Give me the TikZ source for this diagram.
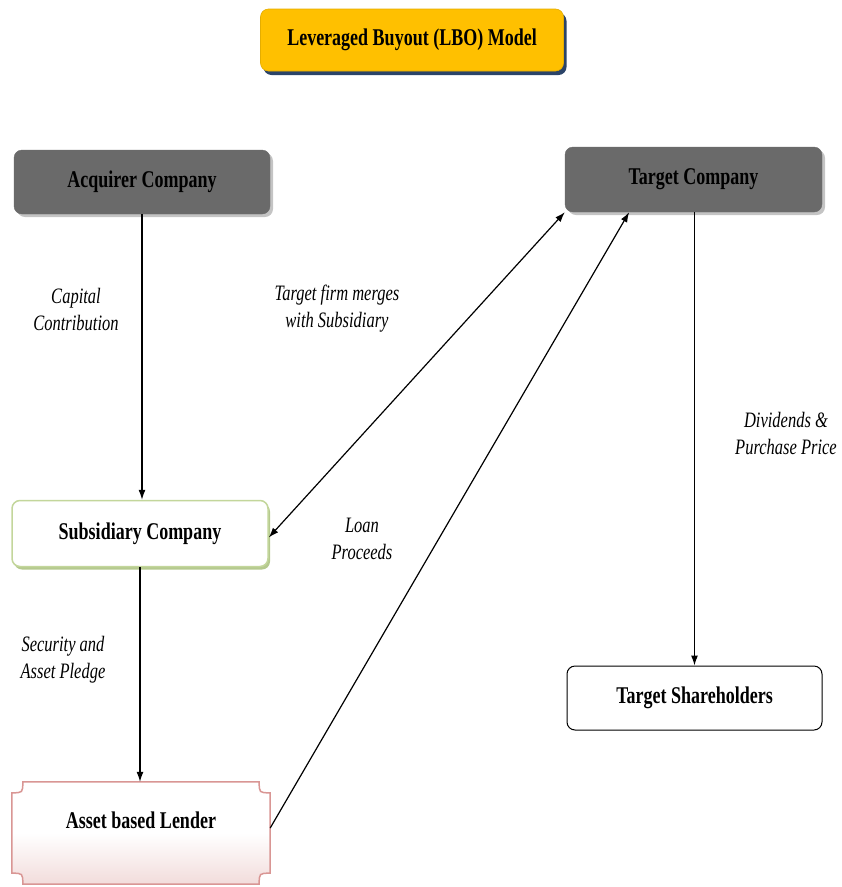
\documentclass[tikz,border=0pt]{standalone}
\usepackage{fontspec}
\setmainfont{Liberation Serif}[FakeStretch=0.75]
\usetikzlibrary{arrows.meta,calc,shadows}
\definecolor{titlefill}{HTML}{FFC000}
\definecolor{titleshadow}{HTML}{2B4468}
\definecolor{darkbox}{HTML}{6A6A6A}
\definecolor{boxshadow}{HTML}{C4C4C4}
\definecolor{subline}{HTML}{C3D69B}
\definecolor{subshadow}{HTML}{B5C98E}
\definecolor{ablline}{HTML}{D99694}
\definecolor{ablpink}{HTML}{F2DCDB}
\begin{document}
\begin{tikzpicture}[x=1pt,y=-1pt,
  boldtxt/.style={font=\fontsize{24}{28}\selectfont\bfseries},
  labeltxt/.style={font=\fontsize{22}{27}\selectfont\itshape, align=center, inner sep=0pt},
  titlebox/.style={boldtxt, rounded corners=8pt, fill=titlefill, draw=titlefill!90!black, line width=0.6pt,
     minimum width=303pt, minimum height=62pt,
     drop shadow={shadow xshift=3pt, shadow yshift=-4pt, fill=titleshadow, opacity=1}},
  graybox/.style={boldtxt, rounded corners=8pt, fill=darkbox, draw=darkbox, minimum width=256pt, minimum height=64pt,
     drop shadow={shadow xshift=3pt, shadow yshift=-3pt, fill=boxshadow, opacity=1}},
  subbox/.style={boldtxt, rounded corners=8pt, fill=white, draw=subline, line width=1.5pt, minimum width=256pt, minimum height=66pt,
     drop shadow={shadow xshift=2pt, shadow yshift=-3pt, fill=subshadow, opacity=1}},
  shbox/.style={boldtxt, rounded corners=8pt, fill=white, draw=black, line width=1pt, minimum width=255pt, minimum height=64pt},
  conn/.style={line width=1.2pt, -{Latex[length=10pt,width=7pt]}},
  dconn/.style={line width=1.2pt, {Latex[length=10pt,width=7pt]}-{Latex[length=10pt,width=7pt]}}
]
\useasboundingbox (0,0) rectangle (842,887);

% title
\node[titlebox] (title) at (412,40) {Leveraged Buyout (LBO) Model};

% boxes
\node[graybox] (acq) at (142,182) {Acquirer Company};
\node[graybox, minimum width=257pt, minimum height=65pt] (tgt) at (693.5,179.5) {Target Company};
\node[subbox] (sub) at (140,533.5) {Subsidiary Company};
\node[shbox] (sh) at (694.5,698) {Target Shareholders};

% asset based lender (scooped-corner box)
\node[minimum width=258pt, minimum height=102pt, inner sep=0pt] (abl) at (141,833) {};
\def\rr{11}
\shade[top color=white, bottom color=ablpink, middle color=white]
  ($(abl.north west)+(\rr,0)$) -- ($(abl.north east)+(-\rr,0)$)
  .. controls ($(abl.north east)+(-\rr,\rr)$) .. ($(abl.north east)+(0,\rr)$)
  -- ($(abl.south east)+(0,-\rr)$)
  .. controls ($(abl.south east)+(-\rr,-\rr)$) .. ($(abl.south east)+(-\rr,0)$)
  -- ($(abl.south west)+(\rr,0)$)
  .. controls ($(abl.south west)+(\rr,-\rr)$) .. ($(abl.south west)+(0,-\rr)$)
  -- ($(abl.north west)+(0,\rr)$)
  .. controls ($(abl.north west)+(\rr,\rr)$) .. cycle;
\draw[ablline, line width=1.5pt]
  ($(abl.north west)+(\rr,0)$) -- ($(abl.north east)+(-\rr,0)$)
  .. controls ($(abl.north east)+(-\rr,\rr)$) .. ($(abl.north east)+(0,\rr)$)
  -- ($(abl.south east)+(0,-\rr)$)
  .. controls ($(abl.south east)+(-\rr,-\rr)$) .. ($(abl.south east)+(-\rr,0)$)
  -- ($(abl.south west)+(\rr,0)$)
  .. controls ($(abl.south west)+(\rr,-\rr)$) .. ($(abl.south west)+(0,-\rr)$)
  -- ($(abl.north west)+(0,\rr)$)
  .. controls ($(abl.north west)+(\rr,\rr)$) .. cycle;
\node[boldtxt] (abltxt) at (141,820) {Asset based Lender};

% connectors
\draw[conn] (acq.south) -- (acq.south |- sub.north);
\draw[conn] (sub.south) -- (sub.south |- abl.north);
\draw[dconn] ($(sub.east)+(0,4)$) -- (tgt.south west);
\coordinate (tgtin) at ($(tgt.south west)!0.25!(tgt.south east)$);
\draw[conn] ($(abl.east)+(0,-5)$) -- (tgtin);
\coordinate (tgtout) at ($(tgt.south)+(1,0)$);
\draw[conn] (tgtout) -- (tgtout |- sh.north);

% labels
\node[labeltxt] (l1) at (76,309) {Capital\\Contribution};
\node[labeltxt] (l2) at (337,309) {Target firm merges\\with Subsidiary};
\node[labeltxt] (l3) at (786,433) {Dividends \&\\Purchase Price};
\node[labeltxt] (l4) at (362,539) {Loan\\Proceeds};
\node[labeltxt] (l5) at (63,660) {Security and\\Asset Pledge};
\end{tikzpicture}
\end{document}
